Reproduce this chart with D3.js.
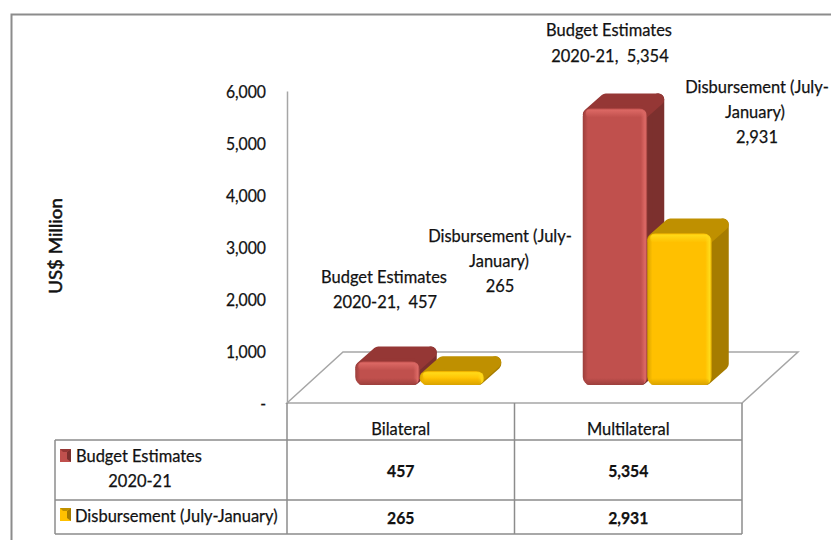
<!DOCTYPE html>
<html>
<head>
<meta charset="utf-8">
<script src="https://cdn.jsdelivr.net/npm/d3@7"></script>
<style>
html, body { margin: 0; padding: 0; background: #fff; }
svg { display: block; }
text { font-family: Lato, "Open Sans", sans-serif; fill: #111; font-size: 17.5px; stroke: #111; stroke-width: 0.25px; }
</style>
</head>
<body>
<div id="chart"></div>
<script>
var categories = ["Bilateral", "Multilateral"];
var seriesNames = ["Budget Estimates 2020-21", "Disbursement (July-January)"];
var budgetValues = [457, 5354];
var disbursementValues = [265, 2931];
var yTicks = [0, 1000, 2000, 3000, 4000, 5000, 6000];

var width = 831, height = 540;
var gridColor = "#a6a6a6", frameColor = "#8c8c8c";

var svg = d3.select("#chart").append("svg").attr("width", width).attr("height", height);
var defs = svg.append("defs");

var y = d3.scaleLinear().domain([0, 6000]).range([403, 91]);
//bars stand 18px in front of the back of the floor and are drawn a bit shorter
var yBar = d3.scaleLinear().domain([0, 6000]).range([385, 75]);
var x = d3.scaleBand().domain(categories).range([287, 742]);
var fmt = d3.format(",");

var floorDx = 56, floorDy = -51;
var barDx = 17, barDy = -15, barWidth = 64.5, barShift = 19, corner = 6;

var seriesStyle = [
    {values: budgetValues, front: "#c0504d", edge: "#9c3f3c", light: "#de6a66", top: "#953735", side: "#7c302e", id: "red"},
    {values: disbursementValues, front: "#ffc000", edge: "#d9a300", light: "#ffdb1a", top: "#bf9000", side: "#a67c00", id: "gold"}
];

seriesStyle.forEach(function (s) {
    var h = defs.append("linearGradient").attr("id", s.id + "-h");
    [[0, s.edge], [0.08, s.front], [0.9, s.front], [0.97, s.light], [1, s.edge]].forEach(function (d) {
        h.append("stop").attr("offset", d[0]).attr("stop-color", d[1]);
    });
    var v = defs.append("linearGradient").attr("id", s.id + "-v").attr("x1", 0).attr("x2", 0).attr("y1", 0).attr("y2", 1);
    v.append("stop").attr("offset", 0).attr("stop-color", s.light).attr("stop-opacity", 1);
    v.append("stop").attr("offset", 1).attr("stop-color", s.light).attr("stop-opacity", 0);
    var b = defs.append("linearGradient").attr("id", s.id + "-b").attr("x1", 0).attr("x2", 0).attr("y1", 0).attr("y2", 1);
    b.append("stop").attr("offset", 0).attr("stop-color", s.edge).attr("stop-opacity", 0);
    b.append("stop").attr("offset", 1).attr("stop-color", s.edge).attr("stop-opacity", 1);
});

//squeeze a text to the narrow look of the original font
function squeeze(sel, k) {
    sel.each(function () {
        var len = this.getComputedTextLength();
        d3.select(this).attr("textLength", len * k).attr("lengthAdjust", "spacingAndGlyphs");
    });
}
var narrow = 0.94, narrowNumbers = 0.9;

//outer frame, only top and left are visible in the crop
svg.append("path")
    .attr("d", "M11.5," + height + "V14.5H" + width)
    .attr("fill", "none").attr("stroke", frameColor).attr("stroke-width", 2);

//floor
var y0 = y(0), xL = x.range()[0], xR = x.range()[1];
svg.append("path")
    .attr("d", "M" + xL + "," + y0 + "L" + (xL + floorDx) + "," + (y0 + floorDy) + "H" + (xR + floorDx) + "L" + xR + "," + y0 + "Z")
    .attr("fill", "none").attr("stroke", gridColor).attr("stroke-width", 1.5);

//value axis
var axis = svg.append("g").attr("transform", "translate(" + xL + ",0)")
    .call(d3.axisLeft(y).tickValues(yTicks).tickSize(0).tickPadding(21)
        .tickFormat(function (d) { return d === 0 ? "-" : fmt(d); }));
axis.select(".domain").attr("stroke", gridColor).attr("stroke-width", 1.5);
axis.attr("font-family", null).attr("font-size", null);
axis.selectAll("text").attr("dy", "0.35em").call(squeeze, narrowNumbers);

svg.append("text")
    .attr("transform", "translate(62,246) rotate(-90)")
    .attr("text-anchor", "middle")
    .style("stroke-width", "0.5px")
    .text("US$ Million")
    .call(squeeze, 1.07);

//bars
seriesStyle.forEach(function (s, si) {
    var bars = svg.append("g").selectAll("g").data(categories).enter().append("g");
    function bx(c) { return x(c) + x.bandwidth() / 2 + barShift + (si - 1) * barWidth; }
    function by(c, i) { return yBar(s.values[i]); }
    var base = yBar(0);

    bars.append("path")
        .attr("d", function (c, i) {
            var r = bx(c) + barWidth, t = by(c, i);
            return "M" + (r - corner) + "," + (t + corner) + "L" + (r + barDx - corner) + "," + (t + barDy + corner) +
                "V" + (base + barDy - corner) + "L" + (r - corner) + "," + (base - corner) + "Z";
        })
        .attr("fill", s.side).attr("stroke", s.side).attr("stroke-width", corner * 2).attr("stroke-linejoin", "round");
    bars.append("path")
        .attr("d", function (c, i) {
            var l = bx(c), r = l + barWidth, t = by(c, i);
            return "M" + (l + corner) + "," + (t + corner) + "L" + (l + barDx + corner) + "," + (t + barDy + corner) +
                "H" + (r + barDx - corner) + "L" + (r - corner) + "," + (t + corner) + "Z";
        })
        .attr("fill", s.top).attr("stroke", s.top).attr("stroke-width", corner * 2).attr("stroke-linejoin", "round");

    bars.append("rect")
        .attr("x", function (c) { return bx(c); })
        .attr("y", function (c, i) { return by(c, i); })
        .attr("width", barWidth)
        .attr("height", function (c, i) { return base - by(c, i); })
        .attr("rx", 8).attr("ry", 8)
        .attr("fill", "url(#" + s.id + "-h)");

    //bevel strips along top and bottom of the front face
    bars.append("rect")
        .attr("x", function (c) { return bx(c) + 3; })
        .attr("y", function (c, i) { return by(c, i) + 1; })
        .attr("width", barWidth - 6)
        .attr("height", function (c, i) { return Math.min(8, (base - by(c, i)) / 2); })
        .attr("rx", 4)
        .attr("fill", "url(#" + s.id + "-v)");
    bars.append("rect")
        .attr("x", function (c) { return bx(c) + 3; })
        .attr("y", base - 7)
        .attr("width", barWidth - 6)
        .attr("height", 7)
        .attr("rx", 3)
        .attr("fill", "url(#" + s.id + "-b)");
});

//data labels sit where they were dragged by hand in the original
var labelSpots = [
    [[384, 277, "Budget Estimates"], [385, 302, "2020-21,  " + fmt(budgetValues[0])]],
    [[609, 30, "Budget Estimates"], [610, 56, "2020-21,  " + fmt(budgetValues[1])]],
    [[500, 236, "Disbursement (July-"], [499, 261, "January)"], [500, 286, fmt(disbursementValues[0])]],
    [[757, 87, "Disbursement (July-"], [755, 112, "January)"], [757, 137, fmt(disbursementValues[1])]]
];
svg.append("g").selectAll("text").data(d3.merge(labelSpots)).enter().append("text")
    .attr("x", function (d) { return d[0]; })
    .attr("y", function (d) { return d[1]; })
    .attr("dy", "0.35em")
    .attr("text-anchor", "middle")
    .style("white-space", "pre")
    .text(function (d) { return d[2]; })
    .call(squeeze, narrow);

//data table
var tableLeft = 55, rowY = [y0, 440, 500, 534];
var table = svg.append("g").attr("fill", "none").attr("stroke", frameColor).attr("stroke-width", 1.5);
table.append("path").attr("d", "M" + tableLeft + "," + rowY[1] + "H" + xR + "M" + tableLeft + "," + rowY[2] + "H" + xR + "M" + tableLeft + "," + rowY[3] + "H" + xR);
table.append("path").attr("d", "M" + tableLeft + "," + rowY[1] + "V" + rowY[3]);
[xL, xL + x.bandwidth(), xR].forEach(function (vx) {
    table.append("path").attr("d", "M" + vx + "," + rowY[0] + "V" + rowY[3]);
});

svg.append("g").selectAll("text").data(categories).enter().append("text")
    .attr("x", function (c) { return x(c) + x.bandwidth() / 2; })
    .attr("y", (rowY[0] + rowY[1]) / 2 + 7)
    .attr("dy", "0.35em")
    .attr("text-anchor", "middle")
    .text(function (c) { return c; })
    .call(squeeze, narrow);

seriesStyle.forEach(function (s, si) {
    svg.append("g").selectAll("text").data(categories).enter().append("text")
        .attr("x", function (c) { return x(c) + x.bandwidth() / 2; })
        .attr("y", (rowY[si + 1] + rowY[si + 2]) / 2 + 1)
        .attr("dy", "0.35em")
        .attr("text-anchor", "middle")
        .attr("font-weight", "bold")
        .text(function (c, i) { return fmt(s.values[i]); })
        .call(squeeze, narrowNumbers);

    //legend key
    var keyY = si === 0 ? 449 : 508;
    svg.append("rect").attr("x", 60).attr("y", keyY).attr("width", 11).attr("height", 13).attr("fill", s.front);
    svg.append("path").attr("d", "M71," + keyY + "v13l-4,-3v-7z").attr("fill", s.side);
    svg.append("path").attr("d", "M60," + keyY + "h11l-4,3h-4z").attr("fill", s.top);
});

svg.append("text").attr("x", 76).attr("y", 456).attr("dy", "0.35em").text("Budget Estimates").call(squeeze, narrow);
svg.append("text").attr("x", 140).attr("y", 481).attr("dy", "0.35em").attr("text-anchor", "middle").text("2020-21").call(squeeze, narrow);
svg.append("text").attr("x", 75).attr("y", 516).attr("dy", "0.35em").text(seriesNames[1]).call(squeeze, narrow);
</script>
</body>
</html>
